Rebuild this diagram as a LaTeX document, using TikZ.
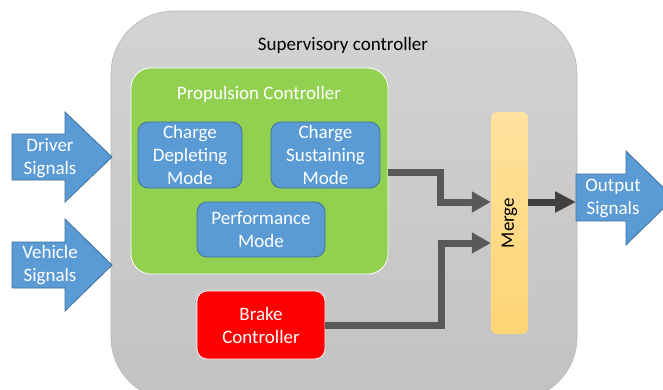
\documentclass[tikz,border=0pt]{standalone}
\usepackage{fontspec}
\setmainfont{Carlito}
\usetikzlibrary{arrows.meta}
\definecolor{supertop}{HTML}{D3D3D3}
\definecolor{superbot}{HTML}{C2C2C2}
\definecolor{superedge}{HTML}{B8B8B8}
\definecolor{propgreen}{HTML}{92D050}
\definecolor{modeblue}{HTML}{5B9BD5}
\definecolor{modeedge}{HTML}{41719C}
\definecolor{brakered}{HTML}{FF0000}
\definecolor{mergetop}{HTML}{FFE29E}
\definecolor{mergebot}{HTML}{FFD574}
\definecolor{wire}{HTML}{595959}
\definecolor{wiredark}{HTML}{404040}
\tikzset{
  txt/.style={font=\fontsize{19}{23}\selectfont, align=center, inner sep=0pt},
  modebox/.style={draw=modeedge, line width=0.8pt, fill=modeblue, rounded corners=10pt,
    text=white, txt},
  bigarrow/.style={draw=modeedge, line width=0.8pt, fill=modeblue},
  conn/.style={draw=wire, line width=7pt, -{Triangle[length=19pt,width=20pt]}},
}
\begin{document}
\begin{tikzpicture}[x=1pt,y=-1pt]
\useasboundingbox (0,0) rectangle (663,389);

% supervisory controller frame
\node[draw=superedge, line width=0.6pt, top color=supertop, bottom color=superbot,
  rounded corners=63pt, minimum width=466pt, minimum height=389pt, inner sep=0pt]
  (sup) at (344,205.5) {};
\node[txt, text=black] (suptitle) at (343,45) {Supervisory controller};

% propulsion controller
\node[draw=white, line width=0.8pt, fill=propgreen, rounded corners=20pt,
  minimum width=257pt, minimum height=206pt, inner sep=0pt] (prop) at (259.5,171) {};
\node[txt, text=white] (proptitle) at (259,94) {Propulsion Controller};

\node[modebox, minimum width=104pt, minimum height=66pt] (cd) at (190,155)
  {Charge\\Depleting\\Mode};
\node[modebox, minimum width=109pt, minimum height=66pt] (cs) at (325.5,155)
  {Charge\\Sustaining\\Mode};
\node[modebox, minimum width=128pt, minimum height=55pt] (pm) at (261,229.5)
  {Performance\\Mode};

% brake controller
\node[draw=white, line width=0.8pt, fill=brakered, rounded corners=10pt, text=white, txt,
  minimum width=128pt, minimum height=68pt] (brake) at (261,325) {Brake\\Controller};

% merge block
\node[draw=none, top color=mergetop, bottom color=mergebot, rounded corners=6pt,
  minimum width=37pt, minimum height=222pt, inner sep=0pt] (merge) at (509.5,223) {};
\node[txt, text=black, rotate=90] (mergelabel) at (merge.center) {Merge};

% input and output block arrows
\path[bigarrow] (12,134) -- (65,134) -- (65,112) -- (112,157) -- (65,202)
  -- (65,180) -- (12,180) -- cycle;
\node[txt, text=white] (driver) at (50,158) {Driver\\Signals};

\path[bigarrow] (12,242) -- (65,242) -- (65,219) -- (112,265) -- (65,311)
  -- (65,288) -- (12,288) -- cycle;
\node[txt, text=white] (vehicle) at (50,265) {Vehicle\\Signals};

\path[bigarrow] (576,174) -- (626,174) -- (626,151) -- (674,198) -- (626,245)
  -- (626,221) -- (576,221) -- cycle;
\node[txt, text=white] (output) at (613,198) {Output\\Signals};
\coordinate (outtail) at (576,202);

% signal routing
\draw[conn] ([yshift=-1pt]prop.east) -- ++(52,0) |- ([yshift=21pt]merge.west);
\draw[conn] (brake.east) -- ++(116,0) |- ([yshift=-20pt]merge.west);
\draw[conn, draw=wiredark, -{Triangle[length=21pt,width=20pt]}]
  ([yshift=21pt]merge.east) -- (outtail);
\end{tikzpicture}
\end{document}
